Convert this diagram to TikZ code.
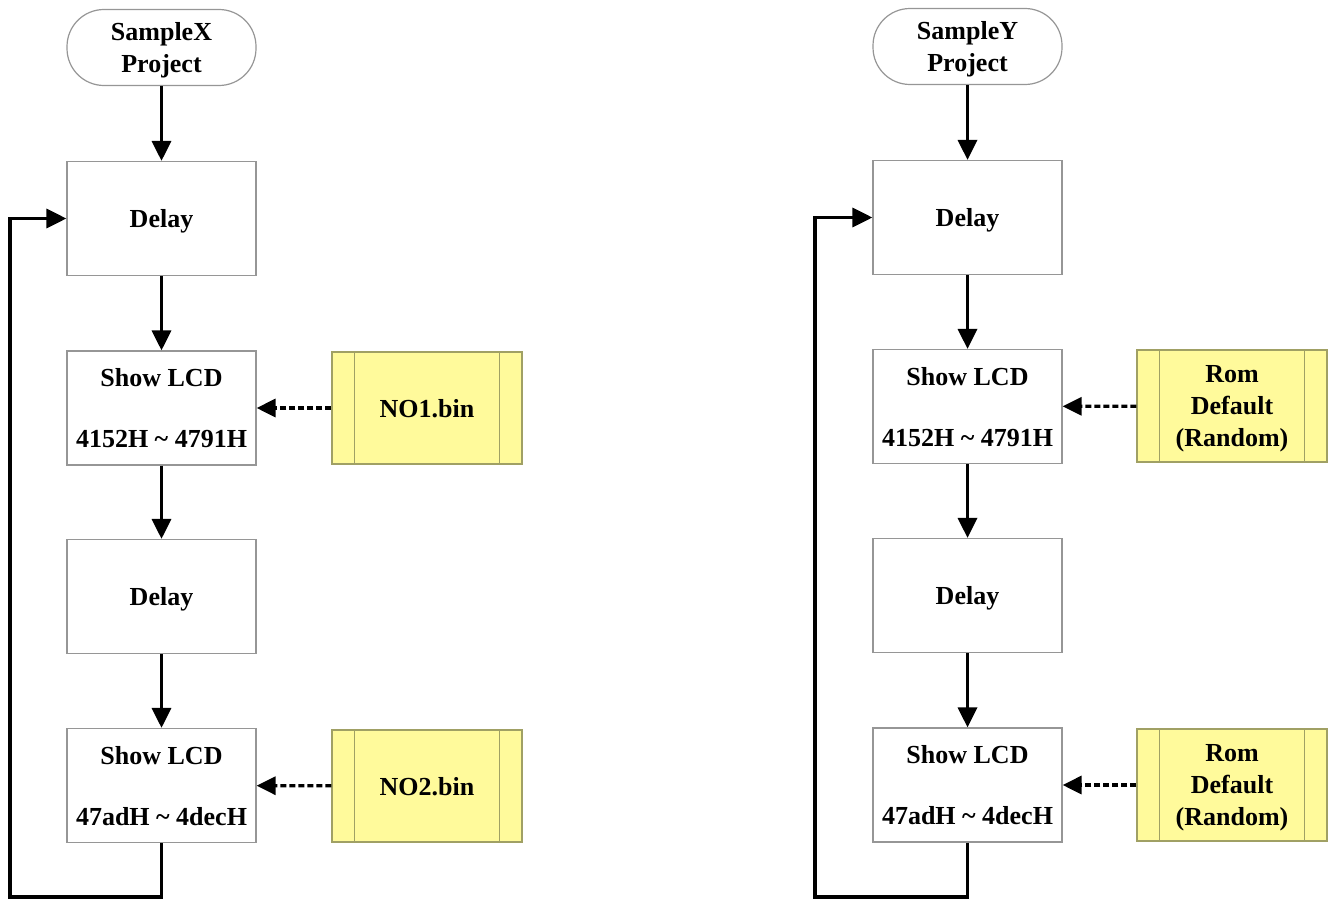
\documentclass[tikz,border=0pt]{standalone}
\usepackage{fontspec}
\setmainfont{Liberation Serif}
\usetikzlibrary{arrows.meta}
\definecolor{boxgray}{RGB}{150,150,150}
\definecolor{yelfill}{RGB}{255,250,155}
\definecolor{yeldraw}{RGB}{160,160,100}
\tikzset{
  txt/.style={font=\fontsize{26}{32}\selectfont\bfseries, align=center, text=black, text depth=0pt},
  procbox/.style={txt, draw=boxgray, line width=1.2pt, fill=white, rectangle, minimum width=189pt, minimum height=114pt, inner sep=0pt},
  termbox/.style={txt, draw=boxgray, line width=1.2pt, fill=white, rectangle, rounded corners=37pt, minimum width=189pt, minimum height=76pt, inner sep=0pt},
  filebox/.style={txt, draw=yeldraw, line width=1.2pt, fill=yelfill, rectangle, minimum width=190pt, minimum height=112pt, inner sep=0pt},
  arr/.style={line width=3.4pt, -{Triangle[length=20pt,width=19pt]}},
  darr/.style={line width=3.2pt, dash pattern=on 6pt off 3pt, -{Triangle[length=19pt,width=18pt]}}
}
\newcommand{\sidelines}[1]{%
  \draw[yeldraw, line width=1.2pt] ([xshift=23pt]#1.north west) -- ([xshift=23pt]#1.south west);
  \draw[yeldraw, line width=1.2pt] ([xshift=-23pt]#1.north east) -- ([xshift=-23pt]#1.south east);}
\begin{document}
\begin{tikzpicture}[x=1pt,y=-1pt]
\useasboundingbox (0,0) rectangle (1332,899);
% left column
\node[termbox] (t1) at (161.5,47.5) {SampleX\\Project};
\node[procbox] (d1) at (161.5,218.5) {Delay};
\node[procbox] (s1) at (161.5,408) {Show LCD\\[29pt]4152H \textasciitilde\ 4791H};
\node[procbox] (d2) at (161.5,596.5) {Delay};
\node[procbox] (s2) at (161.5,785.5) {Show LCD\\[29pt]47adH \textasciitilde\ 4decH};
\node[filebox] (f1) at (427,408) {NO1.bin};
\node[filebox] (f2) at (427,786) {NO2.bin};
\sidelines{f1}
\sidelines{f2}
\coordinate (l1) at (10,897);
\draw[arr] (t1) -- (d1);
\draw[arr] (d1) -- (s1);
\draw[arr] (s1) -- (d2);
\draw[arr] (d2) -- (s2);
\draw[darr] (f1) -- (s1);
\draw[darr] (f2) -- (s2);
\draw[arr] (s2.south) |- (l1) |- (d1.west);
% right column
\node[termbox] (t2) at (967.5,46.5) {SampleY\\Project};
\node[procbox] (d3) at (967.5,217.5) {Delay};
\node[procbox] (s3) at (967.5,406.5) {Show LCD\\[29pt]4152H \textasciitilde\ 4791H};
\node[procbox] (d4) at (967.5,595.5) {Delay};
\node[procbox] (s4) at (967.5,785) {Show LCD\\[29pt]47adH \textasciitilde\ 4decH};
\node[filebox] (f3) at (1232,406) {Rom\\Default\\(Random)};
\node[filebox] (f4) at (1232,785) {Rom\\Default\\(Random)};
\sidelines{f3}
\sidelines{f4}
\coordinate (l2) at (815,897);
\draw[arr] (t2) -- (d3);
\draw[arr] (d3) -- (s3);
\draw[arr] (s3) -- (d4);
\draw[arr] (d4) -- (s4);
\draw[darr] (f3) -- (s3);
\draw[darr] (f4) -- (s4);
\draw[arr] (s4.south) |- (l2) |- (d3.west);
\end{tikzpicture}
\end{document}
